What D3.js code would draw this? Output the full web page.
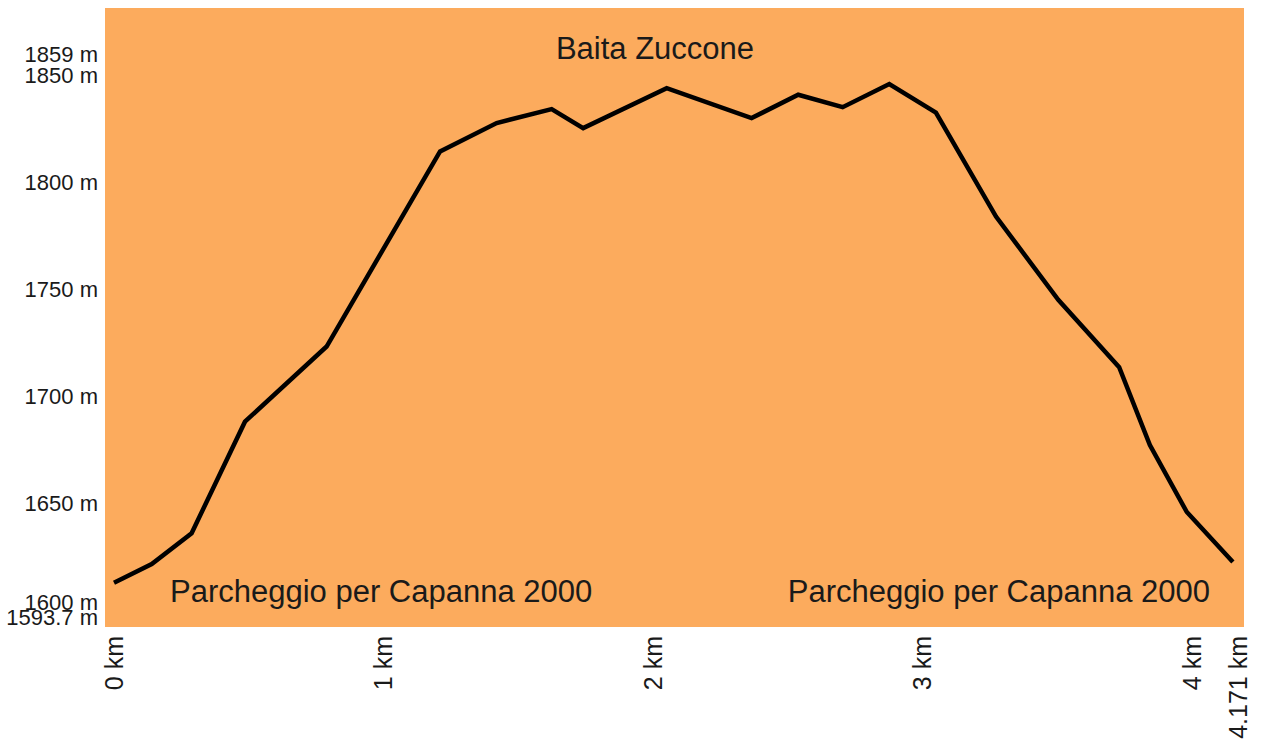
<!DOCTYPE html>
<html>
<head>
<meta charset="utf-8">
<script src="https://cdn.jsdelivr.net/npm/d3@7"></script>
<style>
body{margin:0;background:#fff;}
text{font-family:"Liberation Sans",Arial,sans-serif;fill:#1a1a1a;}
</style>
</head>
<body>
<svg></svg>
<script>
var distKm=[0,0.14,0.288,0.486,0.789,1.21,1.42,1.624,1.741,2.051,2.366,2.539,2.704,2.877,3.05,3.273,3.504,3.73,3.844,3.981,4.152]
var elevM=[1613,1621.7,1636.1,1688.2,1723.3,1814.4,1827.7,1834.2,1825.3,1844,1830,1840.9,1835.1,1845.9,1832.6,1784,1745.1,1713.6,1677.3,1646,1622.7]
var yTicks=[1593.7,1600,1650,1700,1750,1800,1850,1859]
var xTicks=[0,1,2,3,4,4.171]
var peakName="Baita Zuccone"
var startName="Parcheggio per Capanna 2000"
var endName="Parcheggio per Capanna 2000"

var screen={width:1261,height:744}
var plot={left:105,right:1244,top:8,bottom:627}

var svg=d3.select("svg")
          .attr("width",screen.width)
          .attr("height",screen.height);

var xScale=d3.scaleLinear()
             .domain([0,4.171])
             .range([114,1238]);
var yScale=d3.scaleLinear()
             .domain([1593.7,1859])
             .range([624,56]);

svg.append("rect")
   .attr("x",plot.left)
   .attr("y",plot.top)
   .attr("width",plot.right-plot.left)
   .attr("height",plot.bottom-plot.top)
   .attr("fill","#fcab5d");

var points=distKm.map(function(d,i){return [d,elevM[i]];})

var lineGenerator=d3.line()
                    .x(function(d){return xScale(d[0]);})
                    .y(function(d){return yScale(d[1]);});

svg.append("path")
   .datum(points)
   .attr("d",lineGenerator)
   .attr("fill","none")
   .attr("stroke","#000")
   .attr("stroke-width",4.5)
   .attr("stroke-linejoin","miter");

// y labels, pushed apart when they crowd at the ends
var labelY=[]
var prev=plot.bottom-10
yTicks.forEach(function(t)
{
  var y=Math.min(yScale(t),prev)
  labelY.push(y)
  prev=y-15
})
labelY[labelY.length-1]=Math.min(labelY[labelY.length-1],labelY[labelY.length-2]-21)

svg.append("g")
   .selectAll("text")
   .data(yTicks)
   .enter()
   .append("text")
   .text(function(d){return d+" m";})
   .attr("x",98)
   .attr("y",function(d,i){return labelY[i];})
   .attr("dy","0.35em")
   .attr("text-anchor","end")
   .attr("font-size",22);

svg.append("g")
   .selectAll("text")
   .data(xTicks)
   .enter()
   .append("text")
   .text(function(d){return d+" km";})
   .attr("transform",function(d){return "translate("+xScale(d)+",636) rotate(-90)";})
   .attr("dy","0.35em")
   .attr("text-anchor","end")
   .attr("font-size",25);

svg.append("text")
   .text(peakName)
   .attr("x",655)
   .attr("y",59)
   .attr("text-anchor","middle")
   .attr("font-size",31);

svg.append("text")
   .text(startName)
   .attr("x",170)
   .attr("y",602)
   .attr("font-size",31);

svg.append("text")
   .text(endName)
   .attr("x",1210)
   .attr("y",602)
   .attr("text-anchor","end")
   .attr("font-size",31);
</script>
</body>
</html>
